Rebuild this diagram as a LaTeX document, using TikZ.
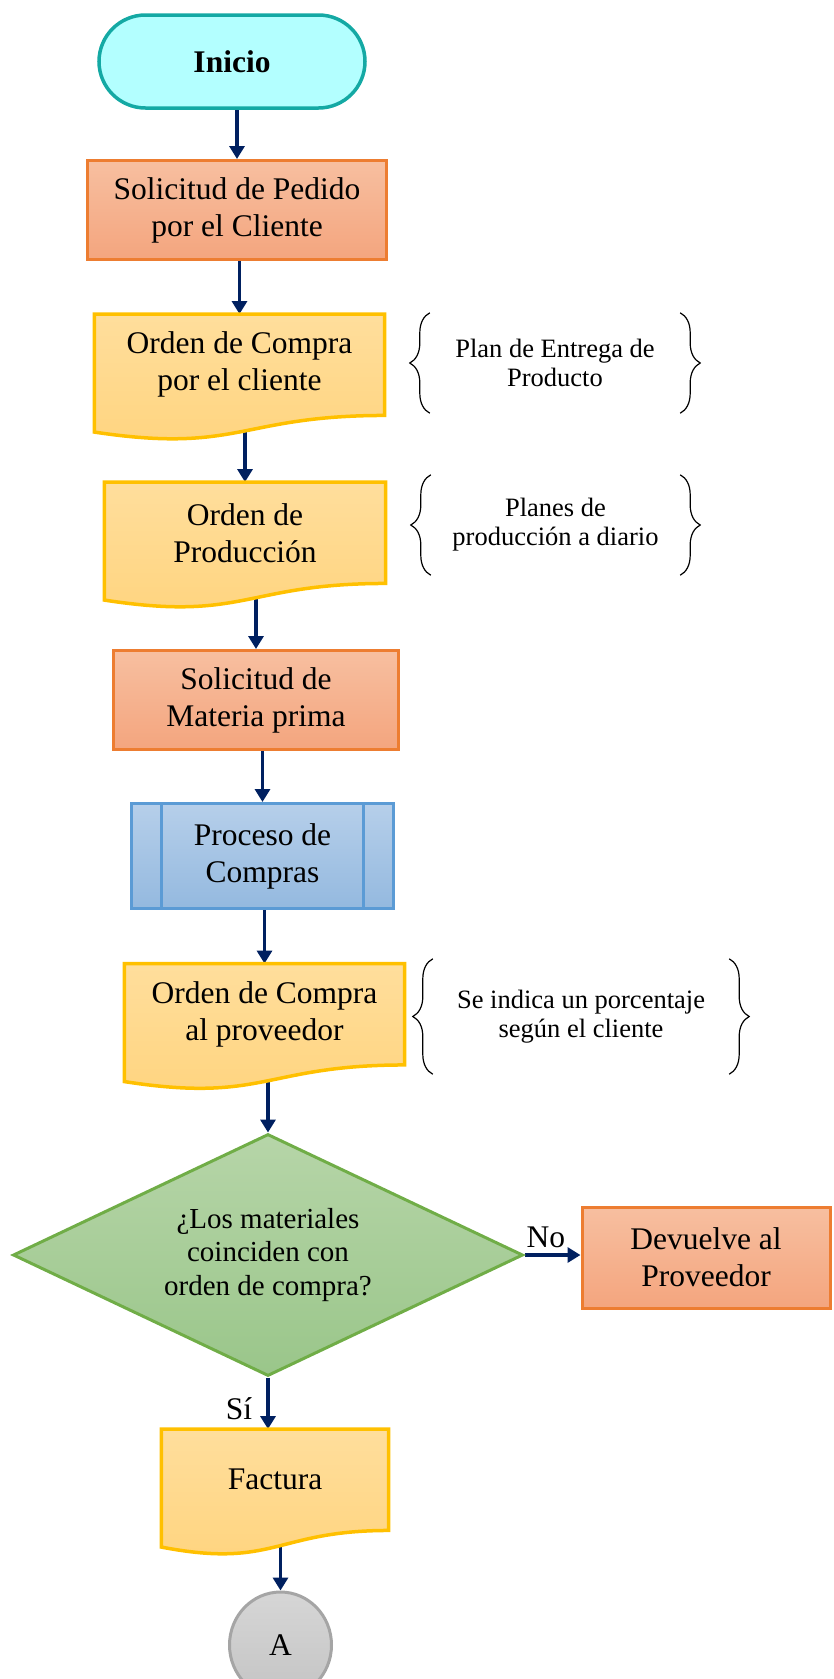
\documentclass[tikz,border=0pt]{standalone}
\usepackage{fontspec}
\setmainfont{Liberation Serif}
\usepackage{tikz}
\usetikzlibrary{shapes.geometric,shapes.misc,arrows.meta,positioning,calc,decorations.pathreplacing}
\usepackage{xcolor}

\definecolor{navy}{HTML}{002060}
\definecolor{tealline}{HTML}{14A9A4}
\definecolor{tealfill}{HTML}{B3FFFF}
\definecolor{orgline}{HTML}{ED7D31}
\definecolor{orgtop}{HTML}{F7BFA0}
\definecolor{orgbot}{HTML}{F4A57E}
\definecolor{ylwline}{HTML}{FFC000}
\definecolor{ylwtop}{HTML}{FFDE9C}
\definecolor{ylwbot}{HTML}{FFD47E}
\definecolor{bluline}{HTML}{5B9BD5}
\definecolor{blutop}{HTML}{B6CFEA}
\definecolor{blubot}{HTML}{94B9DF}
\definecolor{grnline}{HTML}{70AD47}
\definecolor{grntop}{HTML}{B6D5A8}
\definecolor{grnbot}{HTML}{9AC68A}
\definecolor{gryline}{HTML}{A5A5A5}
\definecolor{grytop}{HTML}{D6D6D6}
\definecolor{grybot}{HTML}{C4C4C4}

\pgfdeclarelayer{background}
\pgfsetlayers{background,main}

\tikzset{
  txt/.style={align=center, font=\fontsize{31.5}{37}\selectfont, inner sep=0pt},
  inicio/.style={txt, rounded rectangle, draw=tealline, fill=tealfill, line width=3.5pt},
  proc/.style={txt, rectangle, draw=orgline, line width=3pt, top color=orgtop, bottom color=orgbot},
  subproc/.style={txt, rectangle, draw=bluline, line width=3pt, top color=blutop, bottom color=blubot},
  subline/.style={draw=bluline, line width=3pt},
  docu/.style={txt, rectangle, minimum height=101},
  docline/.style={draw=ylwline, line width=3.5pt, top color=ylwtop, bottom color=ylwbot},
  decision/.style={diamond, aspect=2.1, draw=grnline, line width=3pt, top color=grntop, bottom color=grnbot,
    inner sep=0pt, minimum width=510, minimum height=242, align=center,
    font=\fontsize{29}{33.5}\selectfont},
  connector/.style={txt, ellipse, draw=gryline, line width=3pt, top color=grytop, bottom color=grybot,
    minimum width=102, minimum height=106},
  nota/.style={align=center, font=\fontsize{26.5}{29}\selectfont, inner sep=0pt},
  brc/.style={decorate, decoration={brace, amplitude=20pt}, line width=1.2pt},
  arr/.style={draw=navy, line width=3.5pt, -{Triangle[width=15pt,length=13pt]}},
  lbl/.style={font=\fontsize{31.5}{37}\selectfont, inner sep=0pt}
}

% document outline with the wavy lower edge
\newcommand{\docshape}[1]{%
  \draw[docline] (#1.north west) -- (#1.north east) -- (#1.south east)
    .. controls (#1.south) and ($(#1.south)+(0,38.5)$) .. ($(#1.south west)+(0,16.6)$) -- cycle;}

\begin{document}
\begin{tikzpicture}[x=1pt, y=-1pt]
\useasboundingbox (0,0) rectangle (833,1679);

% Start
\node[inicio, minimum width=266, minimum height=93] (ini) at (232,61.5) {\textbf{Inicio}};

% Main column
\node[proc, minimum width=299, minimum height=99] (ped) at (237,210) {Solicitud de Pedido\\por el Cliente};
\node[docu, minimum width=290] (occ) at (239.5,364.75) {Orden de Compra\\por el cliente};
\node[docu, minimum width=281] (opr) at (245,532.75) {Orden de\\Producción};
\node[proc, minimum width=285, minimum height=99] (smp) at (256,700) {Solicitud de\\Materia prima};
\node[subproc, minimum width=262, minimum height=105] (pcm) at (262.5,856) {Proceso de\\Compras};
\node[docu, minimum width=280] (ocp) at (264.5,1014.25) {Orden de Compra\\al proveedor};
\node[decision] (dec) at (268,1255) {¿Los materiales\\coinciden con\\orden de compra?};
\node[proc, minimum width=248, minimum height=101] (dev) at (706,1257.5) {Devuelve al\\Proveedor};
\node[docu, minimum width=227] (fac) at (275,1479.75) {Factura};
\node[connector] (conA) at (280.5,1645) {A};

% Predefined process bars
\draw[subline] ([xshift=31.5]pcm.north west) -- ([xshift=31.5]pcm.south west);
\draw[subline] ([xshift=-31.5]pcm.north east) -- ([xshift=-31.5]pcm.south east);

% Notes
\node[nota, minimum width=250, minimum height=100] (n1) at (555,363) {Plan de Entrega de\\Producto};
\node[nota, minimum width=249, minimum height=100] (n2) at (555.5,525) {Planes de\\producción a diario};
\node[nota, minimum width=296, minimum height=115] (n3) at (581,1016.5) {Se indica un porcentaje\\según el cliente};

\draw[brc] (n1.south west) -- (n1.north west);
\draw[brc] (n1.north east) -- (n1.south east);
\draw[brc] (n2.south west) -- (n2.north west);
\draw[brc] (n2.north east) -- (n2.south east);
\draw[brc] (n3.south west) -- (n3.north west);
\draw[brc] (n3.north east) -- (n3.south east);

% Connectors, then document outlines over them
\begin{pgfonlayer}{background}
\draw[arr] (ini.south -| ped.north) -- (ped.north);
\draw[arr] (ped.south -| occ.north) -- (occ.north);
\draw[arr] (occ.south -| opr.north) -- (opr.north);
\draw[arr] (opr.south -| smp.north) -- (smp.north);
\draw[arr] (smp.south -| pcm.north) -- (pcm.north);
\draw[arr] (pcm.south -| ocp.north) -- (ocp.north);
\draw[arr] (ocp.south -| dec.north) -- (dec.north);
\draw[arr] (dec.east) -- node[lbl, above=5pt, pos=0.38] {No} (dec.east -| dev.west);
\draw[arr] (dec.south) -- node[lbl, left=14pt, pos=0.6] {Sí} (dec.south |- fac.north);
\draw[arr] (fac.south -| conA.north) -- (conA.north);
\docshape{occ}
\docshape{opr}
\docshape{ocp}
\docshape{fac}
\end{pgfonlayer}

\end{tikzpicture}
\end{document}
